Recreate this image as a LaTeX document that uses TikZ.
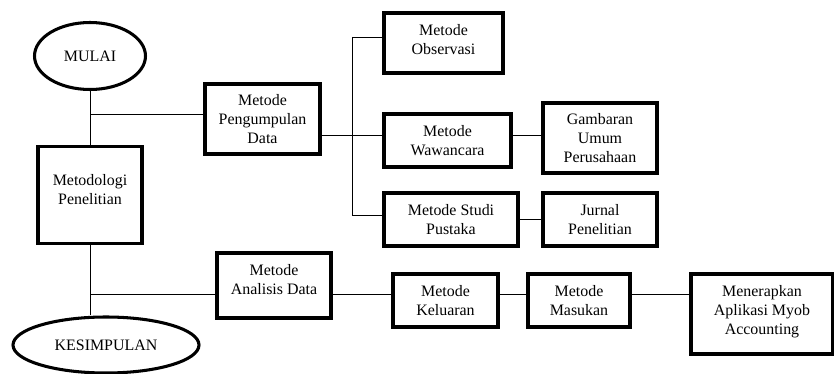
\documentclass[tikz,border=0pt]{standalone}
\usepackage{fontspec}
\setmainfont{Liberation Serif}
\newfontfamily\tnr{Liberation Serif}
\usetikzlibrary{shapes.geometric}
\tikzset{
every picture/.style={
line width=0.8pt
},
kotak/.style={draw, line width=2.6pt, rectangle, align=center, inner sep=0pt,
  font=\tnr\fontsize{13.6}{16.2}\selectfont},
oval/.style={draw, line width=2.6pt, ellipse, align=center, inner sep=0pt,
  font=\tnr\fontsize{13.6}{16.2}\selectfont}
}

\begin{document}
\begin{tikzpicture}[x=0.03cm, y=-0.03cm]
\useasboundingbox (0,0) rectangle (834,374);

% ovals: start and end
\node[oval, minimum width=111*0.03cm, minimum height=67*0.03cm] (mulai) at (90,56) {MULAI};
\node[oval, minimum width=186*0.03cm, minimum height=56*0.03cm] (kesimpulan) at (106,345) {KESIMPULAN};

% boxes: name/x/y/width/height/text
\foreach \n/\x/\y/\w/\h/\t in {
  metodologi/90/195/104/97/{Metodologi\\Penelitian\\[-6pt]},
  pengumpulan/262.5/119/115/70/{Metode\\Pengumpulan\\Data},
  observasi/443.5/43/119/60/{Metode\\Observasi\\[-10pt]},
  wawancara/447.5/140.5/127/53/{Metode\\Wawancara},
  gambaran/600/138/114/70/{Gambaran\\Umum\\Perusahaan},
  studi/451/219.5/134/53/{Metode Studi\\Pustaka},
  jurnal/600/219.5/114/53/{Jurnal\\Penelitian},
  analisis/274/285.5/114/65/{Metode\\Analisis Data\\[-6pt]},
  keluaran/445.5/300.5/105/53/{Metode\\Keluaran},
  masukan/579/300.5/102/53/{Metode\\Masukan},
  menerapkan/762/314/142/80/{Menerapkan\\Aplikasi Myob\\Accounting\\[-9pt]}}{
  \node[kotak, minimum width=\w*0.03cm, minimum height=\h*0.03cm] (\n) at (\x,\y) {\t};
}

% junctions
\coordinate (ja) at (90,114);
\coordinate (jb) at (90,294);
\coordinate (bt) at (352,37);
\coordinate (bm) at (352,135);
\coordinate (bb) at (352,215);

% main spine
\draw (mulai.south) -- (metodologi.north);
\draw (metodologi.south) -- (kesimpulan.north -| metodologi.south);
\draw (ja) -- (pengumpulan.west |- ja);
\draw (jb) -- (analisis.west |- jb);

% data collection branch
\draw (pengumpulan.east |- bm) -- (bm);
\draw (bt) -- (bb);
\draw (bt) -- (observasi.west |- bt);
\draw (bm) -- (wawancara.west |- bm);
\draw (bb) -- (studi.west |- bb);
\draw (wawancara.east |- bm) -- (gambaran.west |- bm);
\draw (studi) -- (jurnal);

% analysis chain
\draw (analisis.east |- jb) -- (keluaran.west |- jb);
\draw (keluaran.east |- jb) -- (masukan.west |- jb);
\draw (masukan.east |- jb) -- (menerapkan.west |- jb);
\end{tikzpicture}
\end{document}
